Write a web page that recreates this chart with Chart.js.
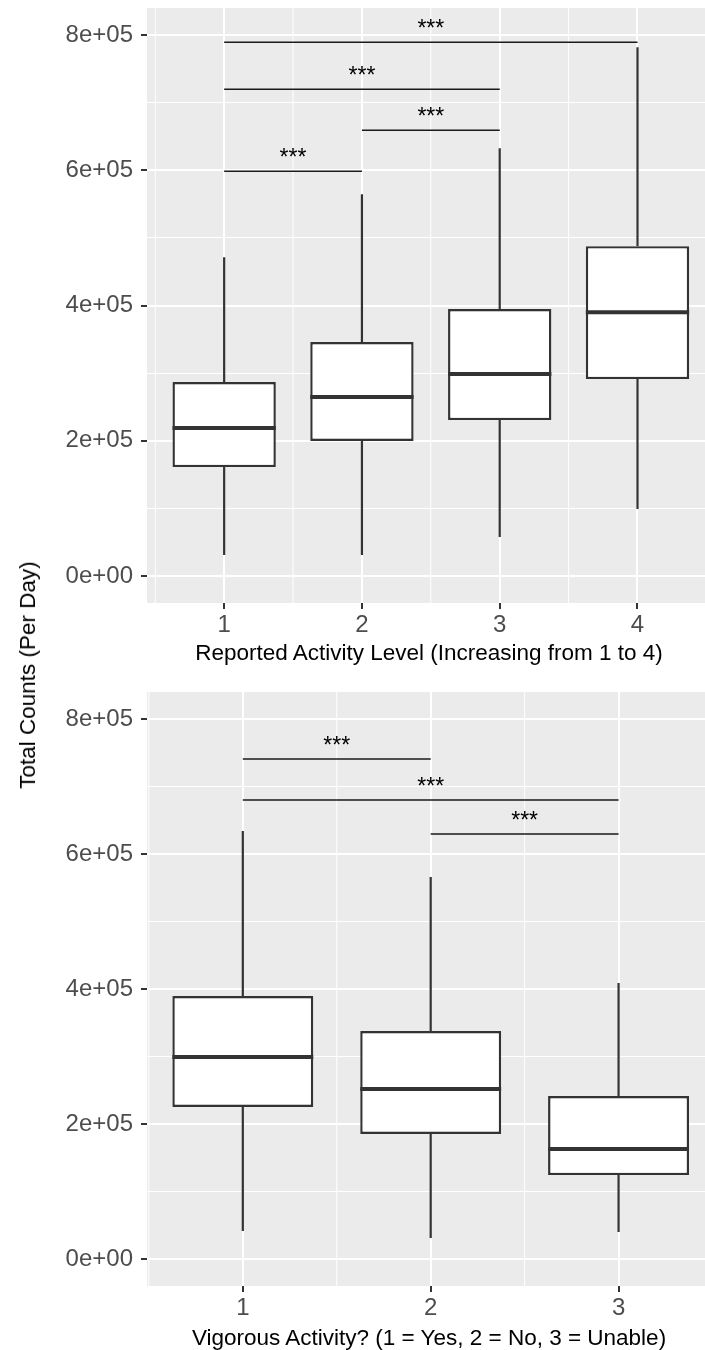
<!DOCTYPE html>
<html>
<head>
<meta charset="utf-8">
<script src="https://cdn.jsdelivr.net/npm/chart.js@4.4.1/dist/chart.umd.min.js"></script>
<style>
  body { margin: 0; background: #fff; overflow: hidden; font-family: "Liberation Sans", Arial, sans-serif; }
  #page { position: relative; width: 705px; height: 1350px; }
  .panel { position: absolute; left: 0; width: 705px; }
  #topPanel { top: 0; height: 676px; }
  #bottomPanel { top: 676px; height: 674px; }
  .axisTitle { position: absolute; color: #000; font-size: 22.5px; white-space: nowrap; transform: translate(-50%, -50%); }
  #yTitle { left: 28px; top: 675px; transform: translate(-50%, -50%) rotate(-90deg); }
</style>
</head>
<body>
<div id="page">
  <div class="panel" id="topPanel"><canvas id="activityChart" width="705" height="676"></canvas></div>
  <div class="panel" id="bottomPanel"><canvas id="vigorousChart" width="705" height="674"></canvas></div>
  <div class="axisTitle" id="yTitle">Total Counts (Per Day)</div>
  <div class="axisTitle" style="left:429px;top:653px">Reported Activity Level (Increasing from 1 to 4)</div>
  <div class="axisTitle" style="left:429px;top:1338px">Vigorous Activity? (1 = Yes, 2 = No, 3 = Unable)</div>
</div>
<script>
// --- Panel 1: reported activity level (box stats) ---
const activityGroups = [1, 2, 3, 4];
const activityMin = [31000, 31000, 57600, 99000];
const activityQ1 = [161000, 199600, 230600, 291200];
const activityMedian = [218800, 264600, 298600, 390200];
const activityQ3 = [286800, 345900, 394700, 487800];
const activityMax = [471500, 564700, 632700, 782000];
const activitySigFrom = [1, 1, 2, 1];
const activitySigTo = [4, 3, 3, 2];
const activitySigY = [789400, 719900, 659300, 598700];

// --- Panel 2: vigorous activity ---
const vigorousGroups = [1, 2, 3];
const vigorousMin = [41500, 31100, 40000];
const vigorousQ1 = [225200, 185200, 124400];
const vigorousMedian = [299300, 251900, 163000];
const vigorousQ3 = [389600, 337800, 241500];
const vigorousMax = [634000, 565900, 408900];
const vigorousSigFrom = [1, 1, 2];
const vigorousSigTo = [2, 3, 3];
const vigorousSigY = [740700, 680000, 629600];

// --- Shared axis ticks ---
const sigLabel = '***';
const yGridValues = [0, 100000, 200000, 300000, 400000, 500000, 600000, 700000, 800000];
const yTickValues = [0, 200000, 400000, 600000, 800000];
const yTickLabels = ['0e+00', '2e+05', '4e+05', '6e+05', '8e+05'];

const INK = '#333333';
const TICK_GREY = '#4D4D4D';
const FONT = '"Liberation Sans", Arial, sans-serif';

// --- ggplot-like panel: grey background, minor x grid, whiskers, medians, brackets ---
const ggBoxPlugin = {
  id: 'ggBox',
  beforeDraw(chart) {
    const { ctx, chartArea: a } = chart;
    ctx.save();
    ctx.fillStyle = '#EBEBEB';
    ctx.fillRect(a.left, a.top, a.width, a.height);
    ctx.restore();
  },
  beforeDatasetsDraw(chart) {
    const { ctx, chartArea: a } = chart;
    const x = chart.scales.x;
    ctx.save();
    ctx.strokeStyle = '#FFFFFF';
    ctx.lineWidth = 1;
    for (let v = Math.floor(x.min) + 0.5; v < x.max; v += 1) {
      const px = x.getPixelForValue(v);
      ctx.beginPath();
      ctx.moveTo(px, a.top);
      ctx.lineTo(px, a.bottom);
      ctx.stroke();
    }
    ctx.restore();
  },
  afterDatasetsDraw(chart, args, opts) {
    const { ctx } = chart;
    const x = chart.scales.x;
    const y = chart.scales.y;
    const meta = chart.getDatasetMeta(0);
    ctx.save();
    ctx.strokeStyle = INK;
    ctx.lineCap = 'butt';
    meta.data.forEach((bar, i) => {
      const { x: cx, width } = bar.getProps(['x', 'width'], true);
      // whiskers
      ctx.lineWidth = 2.2;
      ctx.beginPath();
      ctx.moveTo(cx, y.getPixelForValue(opts.q3[i]));
      ctx.lineTo(cx, y.getPixelForValue(opts.max[i]));
      ctx.moveTo(cx, y.getPixelForValue(opts.q1[i]));
      ctx.lineTo(cx, y.getPixelForValue(opts.min[i]));
      ctx.stroke();
      // median
      ctx.lineWidth = 4;
      const my = y.getPixelForValue(opts.median[i]);
      ctx.beginPath();
      ctx.moveTo(cx - width / 2, my);
      ctx.lineTo(cx + width / 2, my);
      ctx.stroke();
    });

    // significance brackets
    ctx.strokeStyle = '#1A1A1A';
    ctx.fillStyle = '#000000';
    ctx.lineWidth = 1.5;
    ctx.font = '23px ' + FONT;
    ctx.textAlign = 'center';
    ctx.textBaseline = 'alphabetic';
    opts.sigFrom.forEach((from, i) => {
      const x1 = x.getPixelForValue(from);
      const x2 = x.getPixelForValue(opts.sigTo[i]);
      const py = y.getPixelForValue(opts.sigY[i]);
      ctx.beginPath();
      ctx.moveTo(x1, py);
      ctx.lineTo(x2, py);
      ctx.stroke();
      ctx.fillText(sigLabel, (x1 + x2) / 2, py - 6.5);
    });
    ctx.restore();
  }
};

function makeBoxChart(canvasId, groups, mins, q1s, medians, q3s, maxs, sigFrom, sigTo, sigY, xMin, xMax, padTop, xAxisHeight) {
  const ctx = document.getElementById(canvasId).getContext('2d');
  return new Chart(ctx, {
    type: 'bar',
    data: {
      datasets: [{
        data: groups.map((g, i) => ({ x: g, y: [q1s[i], q3s[i]] })),
        backgroundColor: '#FFFFFF',
        borderColor: INK,
        borderWidth: 2.4,
        borderSkipped: false,
        categoryPercentage: 1,
        barPercentage: 0.75
      }]
    },
    options: {
      responsive: false,
      animation: false,
      layout: { padding: { top: padTop, left: 0, right: 0, bottom: 0 } },
      plugins: {
        legend: { display: false },
        tooltip: { enabled: false },
        ggBox: { min: mins, q1: q1s, median: medians, q3: q3s, max: maxs, sigFrom, sigTo, sigY }
      },
      scales: {
        x: {
          type: 'linear',
          min: xMin,
          max: xMax,
          offset: false,
          afterBuildTicks: (scale) => { scale.ticks = groups.map((g) => ({ value: g })); },
          afterFit: (scale) => {
            scale.height = xAxisHeight;
            scale.paddingLeft = 0;
            scale.paddingRight = 0;
          },
          border: { display: false },
          grid: { offset: false, color: '#FFFFFF', lineWidth: 2, tickLength: 6, tickWidth: 2, tickColor: INK },
          ticks: {
            padding: 2,
            color: TICK_GREY,
            font: { family: FONT, size: 24 },
            callback: (v) => String(v)
          }
        },
        y: {
          min: -40000,
          max: 840000,
          afterBuildTicks: (scale) => { scale.ticks = yGridValues.map((v) => ({ value: v })); },
          afterFit: (scale) => {
            scale.width = 147;
            scale.paddingTop = 0;
            scale.paddingBottom = 0;
          },
          border: { display: false },
          grid: {
            color: '#FFFFFF',
            lineWidth: (c) => (yTickValues.includes(c.tick.value) ? 2 : 1),
            tickLength: 6,
            tickWidth: 2,
            tickColor: (c) => (yTickValues.includes(c.tick.value) ? INK : 'rgba(0,0,0,0)')
          },
          ticks: {
            padding: 8,
            color: TICK_GREY,
            font: { family: FONT, size: 24 },
            callback: (v) => {
              const k = yTickValues.indexOf(v);
              return k >= 0 ? yTickLabels[k] : '';
            }
          }
        }
      }
    },
    plugins: [ggBoxPlugin]
  });
}

makeBoxChart('activityChart', activityGroups, activityMin, activityQ1, activityMedian, activityQ3, activityMax,
  activitySigFrom, activitySigTo, activitySigY, 0.44, 4.49, 8, 73);
makeBoxChart('vigorousChart', vigorousGroups, vigorousMin, vigorousQ1, vigorousMedian, vigorousQ3, vigorousMax,
  vigorousSigFrom, vigorousSigTo, vigorousSigY, 0.49, 3.46, 16, 64);
</script>
</body>
</html>
